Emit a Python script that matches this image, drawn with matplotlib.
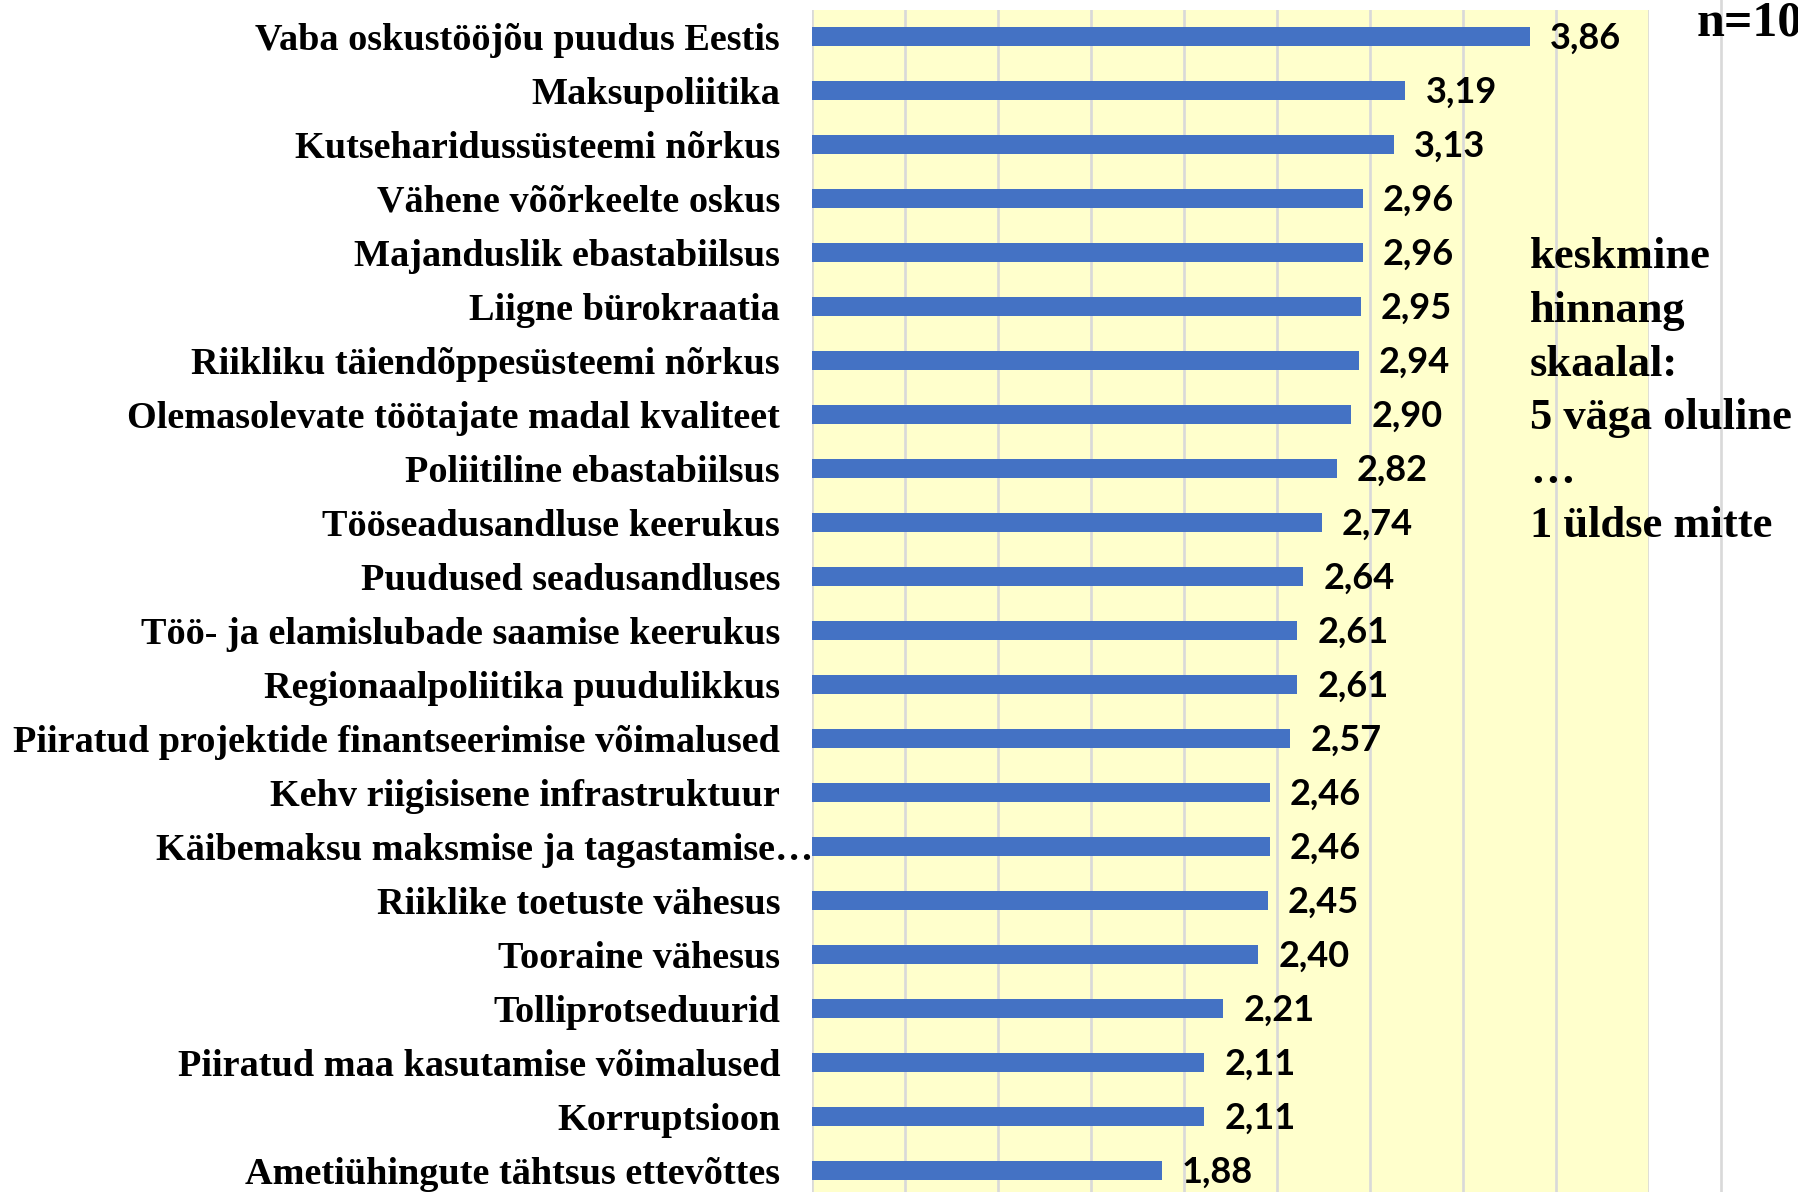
import numpy as np
import matplotlib
matplotlib.use("Agg")
import matplotlib.pyplot as plt
from matplotlib.lines import Line2D
from matplotlib.transforms import ScaledTranslation

# data
categories = [
    "Vaba oskustööjõu puudus Eestis",
    "Maksupoliitika",
    "Kutseharidussüsteemi nõrkus",
    "Vähene võõrkeelte oskus",
    "Majanduslik ebastabiilsus",
    "Liigne bürokraatia",
    "Riikliku täiendõppesüsteemi nõrkus",
    "Olemasolevate töötajate madal kvaliteet",
    "Poliitiline ebastabiilsus",
    "Tööseadusandluse keerukus",
    "Puudused seadusandluses",
    "Töö- ja elamislubade saamise keerukus",
    "Regionaalpoliitika puudulikkus",
    "Piiratud projektide finantseerimise võimalused",
    "Kehv riigisisene infrastruktuur",
    "Käibemaksu maksmise ja tagastamise…",
    "Riiklike toetuste vähesus",
    "Tooraine vähesus",
    "Tolliprotseduurid",
    "Piiratud maa kasutamise võimalused",
    "Korruptsioon",
    "Ametiühingute tähtsus ettevõttes",
]
values = [3.86, 3.19, 3.13, 2.96, 2.96, 2.95, 2.94, 2.90, 2.82, 2.74, 2.64,
          2.61, 2.61, 2.57, 2.46, 2.46, 2.45, 2.40, 2.21, 2.11, 2.11, 1.88]
note_lines = ["keskmine", "hinnang", "skaalal:", "5 väga oluline", "…", "1 üldse mitte"]
n_text = "n=100"

serif = ["Liberation Serif", "DejaVu Serif"]
W, H = 1798, 1192

fig = plt.figure(figsize=(W / 100, H / 100), dpi=100)
fig.patch.set_facecolor("white")

# plot area (yellow) from x=0 to 4.5
left, right = 812 / W, 1649 / W
top = 1 - 10 / H
span = 21.99 * 54 / H
ax = fig.add_axes([left, top - span, right - left, span])
ax.set_facecolor("#ffffcc")

y = np.arange(len(categories))
ax.barh(y, values, height=0.36, color="#4472c4", zorder=3)
ax.set_xlim(0, 4.5)
ax.set_ylim(21.5, -0.49)
ax.set_xticks(np.arange(0, 4.51, 0.5))
ax.set_xticklabels([])
ax.grid(axis="x", color="#d9d9d9", lw=1.9, zorder=0)
ax.set_axisbelow(True)
for s in ax.spines.values():
    s.set_visible(False)
ax.tick_params(length=0, pad=23)
ax.set_yticks(y)
ax.set_yticklabels(categories, fontsize=27.5, fontweight="bold", family=serif)
# truncated label overflows a bit like in the original
lbl = ax.get_yticklabels()[15]
lbl.set_transform(lbl.get_transform() + ScaledTranslation(0.33, 0, fig.dpi_scale_trans))

for i, v in enumerate(values):
    ax.annotate(("%.2f" % v).replace(".", ","), (v, i), xytext=(14.5, -1),
                textcoords="offset points", va="center", ha="left",
                fontsize=26, fontweight="bold", family="Lato", color="black")

# vertical line right of the plot area
fig.add_artist(Line2D([1721 / W, 1721 / W], [0, 1], color="#d9d9d9", lw=1.9))

# side note
for k, t in enumerate(note_lines):
    fig.text(1530 / W, 1 - (268 + k * 53.8) / H, t, ha="left", va="baseline",
             fontsize=32, fontweight="bold", family=serif)
fig.text(1697 / W, 1 - 35 / H, n_text, ha="left", va="baseline",
         fontsize=36, fontweight="bold", family=serif)

fig.savefig("out.png", dpi=100)
